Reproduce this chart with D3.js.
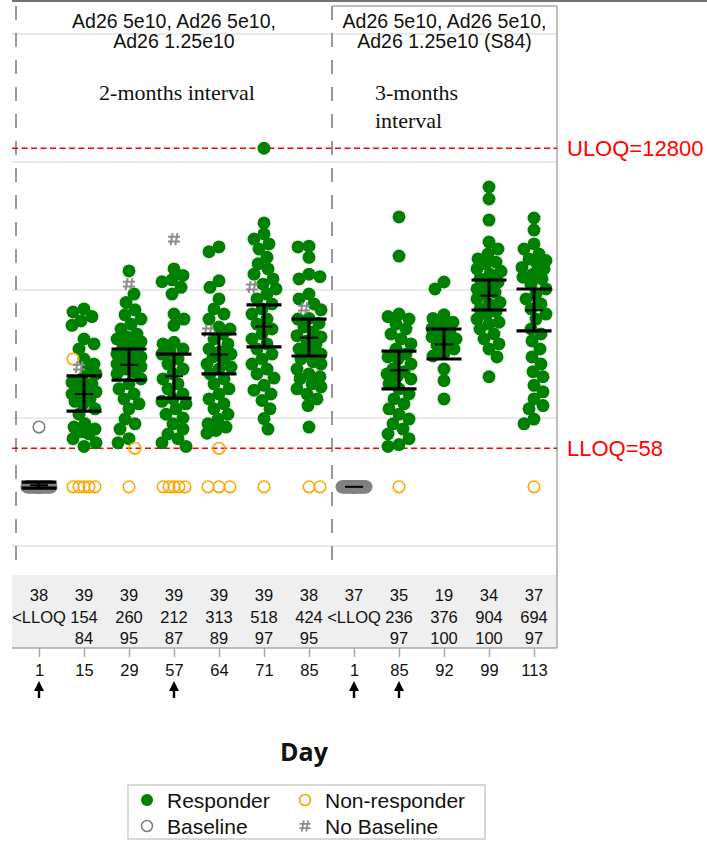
<!DOCTYPE html>
<html>
<head>
<meta charset="utf-8">
<script src="https://cdn.jsdelivr.net/npm/d3@7"></script>
<style>
  html, body { margin: 0; padding: 0; background: #fff; }
  svg { display: block; }
</style>
</head>
<body>
<div id="chart"></div>
<script>
// ---- Data -------------------------------------------------------------
const dayLabels   = ["1", "15", "29", "57", "64", "71", "85", "1", "85", "92", "99", "113"];
const nTotal      = [38, 39, 39, 39, 39, 39, 38, 37, 35, 19, 34, 37];
const gmtText     = ["<LLOQ", "154", "260", "212", "313", "518", "424", "<LLOQ", "236", "376", "904", "694"];
const respRate    = ["", "84", "95", "87", "89", "97", "95", "", "97", "100", "100", "97"];
const gmtValue    = [29.8, 154, 260, 212, 313, 518, 424, 29, 236, 376, 904, 694];
const ciLower     = [28.3, 113, 198, 143, 221, 359, 305, null, 169, 289, 698, 479];
const ciUpper     = [31.5, 213, 346, 316, 453, 764, 593, null, 333, 496, 1197, 1018];
const dosingDays  = [0, 3, 7, 8]; // columns marked with a dose arrow

const panelTitles = [
  ["Ad26 5e10, Ad26 5e10,", "Ad26 1.25e10"],
  ["Ad26 5e10, Ad26 5e10,", "Ad26 1.25e10 (S84)"]
];

const LLOQ = 58;
const ULOQ = 12800;

// responders (titer values)
const resp15  = [711, 673, 620, 573, 530, 414, 379, 346, 289, 264, 241, 221, 202, 190, 185, 175, 169, 160, 154, 148, 141, 135, 129, 118, 107, 90, 85, 82, 78, 75, 69, 64, 60];
const resp29  = [1410, 930, 800, 700, 640, 593, 540, 496, 453, 430, 414, 395, 379, 360, 346, 330, 316, 300, 289, 276, 264, 252, 241, 230, 221, 202, 185, 169, 154, 141, 129, 118, 98, 90, 82, 69, 64];
const resp57  = [1460, 1300, 1200, 1160, 1050, 930, 649, 593, 530, 390, 379, 346, 330, 316, 289, 264, 241, 221, 202, 185, 169, 154, 141, 135, 129, 118, 107, 100, 90, 82, 75, 69, 64, 60];
const resp64  = [2170, 1990, 1180, 1050, 851, 711, 649, 593, 514, 496, 453, 414, 379, 346, 330, 316, 300, 289, 264, 250, 241, 221, 202, 185, 169, 154, 141, 129, 118, 107, 98, 90, 85, 80, 76];
const resp71  = [12800, 3340, 2740, 2500, 2290, 2090, 1800, 1600, 1460, 1330, 1220, 1110, 1020, 930, 851, 778, 711, 649, 593, 542, 496, 453, 414, 379, 346, 316, 289, 264, 241, 221, 205, 180, 165, 154, 137, 118, 99, 82];
const resp85a = [2200, 2170, 1800, 1330, 1270, 1220, 930, 851, 778, 700, 600, 593, 550, 514, 470, 440, 430, 400, 379, 346, 330, 316, 289, 275, 264, 241, 221, 210, 202, 185, 175, 169, 154, 141, 125, 85];
const resp85b = [3720, 1840, 649, 620, 593, 542, 496, 453, 414, 379, 346, 316, 300, 289, 264, 241, 230, 221, 210, 202, 185, 169, 154, 141, 129, 118, 107, 98, 90, 82, 75, 69, 62, 60];
const resp92  = [1155, 1020, 640, 600, 560, 530, 500, 470, 453, 430, 414, 395, 370, 346, 320, 305, 241, 196, 141];
const resp99  = [6380, 5140, 3520, 2370, 2090, 1910, 1750, 1650, 1600, 1460, 1400, 1330, 1220, 1150, 1110, 1020, 960, 930, 851, 800, 778, 711, 680, 649, 593, 560, 542, 496, 453, 414, 379, 346, 300, 210];
const resp113 = [3650, 2940, 2290, 2090, 1910, 1750, 1700, 1600, 1500, 1460, 1330, 1260, 1220, 1110, 1020, 930, 851, 778, 711, 649, 593, 496, 453, 400, 346, 300, 264, 230, 210, 180, 160, 141, 125, 118, 98, 90];

// non-responders (values below LLOQ shown at LLOQ/2)
const non15  = [289, 29, 29, 29, 29, 29];
const non29  = [58, 29];
const non57  = [29, 29, 29, 29, 29];
const non64  = [58, 29, 29, 29];
const non71  = [29];
const non85a = [29, 29];
const non85b = [29];
const non113 = [29];

// baseline (day 1) samples
const base1a = [85, 29, 29, 29, 29, 29, 29, 29, 29, 29, 29, 29, 29, 29, 29, 29, 29, 29, 29, 29, 29, 29, 29, 29, 29, 29, 29, 29, 29, 29, 29, 29, 29, 29, 29, 29, 29, 29];
const base1b = [29, 29, 29, 29, 29, 29, 29, 29, 29, 29, 29, 29, 29, 29, 29, 29, 29, 29, 29, 29, 29, 29, 29, 29, 29, 29, 29, 29, 29, 29, 29, 29, 29, 29, 29, 29, 29];

// subjects without a baseline sample
const noBase15 = [250];
const noBase29 = [1110];
const noBase57 = [2500];
const noBase64 = [479];
const noBase71 = [1055];
const noBase85 = [722];

const responders    = [[], resp15, resp29, resp57, resp64, resp71, resp85a, [], resp85b, resp92, resp99, resp113];
const nonResponders = [[], non15, non29, non57, non64, non71, non85a, [], non85b, [], [], non113];
const baselines     = [base1a, [], [], [], [], [], [], base1b, [], [], [], []];
const noBaselines   = [[], noBase15, noBase29, noBase57, noBase64, noBase71, noBase85, [], [], [], [], []];

// ---- Layout -----------------------------------------------------------
const W = 707, H = 842;
const plotLeft = 16, plotRight = 557, divider = 332;
const plotTop = 6, plotBottom = 572;
const tableTop = 575, tableBottom = 648;

const COLORS = {
  responder: "#008000",
  non: "#FFA500",
  baseline: "#808080",
  noBase: "#8C8C8C",
  ref: "#FF0000",
  grid: "#E3E3E3"
};

const svg = d3.select("#chart").append("svg")
  .attr("width", W).attr("height", H)
  .attr("font-family", "'Liberation Sans', Arial, sans-serif");

const keys = dayLabels.map((d, i) => "c" + i);
const x = d3.scalePoint().domain(keys).range([39, 534]);
const y = d3.scaleLog().domain([10, 100000]).range([546, 34]);

// top rule
svg.append("line").attr("x1", 12).attr("x2", W).attr("y1", 1).attr("y2", 1)
  .attr("stroke", "#444").attr("stroke-width", 1.5);

// gridlines at each decade
const gridVals = [10, 100, 1000, 10000, 100000];
svg.append("g").selectAll("line").data(gridVals).join("line")
  .attr("x1", 12).attr("x2", plotRight)
  .attr("y1", d => y(d)).attr("y2", d => y(d))
  .attr("stroke", COLORS.grid).attr("stroke-width", 1.5);

// right panel frame (top edge)
svg.append("line").attr("x1", divider).attr("x2", plotRight).attr("y1", plotTop).attr("y2", plotTop)
  .attr("stroke", "#A8A8A8").attr("stroke-width", 1.5);

// statistics table background
svg.append("rect").attr("x", 12).attr("y", tableTop)
  .attr("width", plotRight - 12).attr("height", tableBottom - tableTop)
  .attr("fill", "#EFEFEF");

svg.append("line").attr("x1", plotRight).attr("x2", plotRight).attr("y1", plotTop).attr("y2", tableBottom)
  .attr("stroke", "#A8A8A8").attr("stroke-width", 1.5);
svg.append("line").attr("x1", 12).attr("x2", plotRight).attr("y1", tableBottom).attr("y2", tableBottom)
  .attr("stroke", "#A8A8A8").attr("stroke-width", 1.5);

// dashed panel separators
[plotLeft, divider].forEach(px => {
  svg.append("line").attr("x1", px).attr("x2", px).attr("y1", plotTop).attr("y2", plotBottom)
    .attr("stroke", "#808080").attr("stroke-width", 1.6)
    .attr("stroke-dasharray", "14,13");
});

// panel titles
const panelCenters = [(plotLeft + divider) / 2, (divider + plotRight) / 2];
panelTitles.forEach((lines, p) => {
  lines.forEach((t, li) => {
    svg.append("text").attr("x", panelCenters[p]).attr("y", 28 + li * 20)
      .attr("text-anchor", "middle").attr("font-size", 19.5).attr("fill", "#111")
      .text(t);
  });
});

// interval annotations
const serif = "'Liberation Serif', 'Times New Roman', serif";
svg.append("text").attr("x", 177).attr("y", 100).attr("text-anchor", "middle")
  .attr("font-family", serif).attr("font-size", 22).attr("fill", "#111").text("2-months interval");
svg.append("text").attr("x", 375).attr("y", 100)
  .attr("font-family", serif).attr("font-size", 22).attr("fill", "#111").text("3-months");
svg.append("text").attr("x", 375).attr("y", 128)
  .attr("font-family", serif).attr("font-size", 22).attr("fill", "#111").text("interval");

// LLOQ / ULOQ reference lines
[{ v: ULOQ, label: "ULOQ=12800" }, { v: LLOQ, label: "LLOQ=58" }].forEach(r => {
  svg.append("line").attr("x1", 12).attr("x2", plotRight)
    .attr("y1", y(r.v)).attr("y2", y(r.v))
    .attr("stroke", COLORS.ref).attr("stroke-width", 1.5).attr("stroke-dasharray", "6,3.5");
  svg.append("text").attr("x", 567).attr("y", y(r.v) + 8)
    .attr("font-size", 22).attr("fill", COLORS.ref).text(r.label);
});

// ---- Points: a simple beeswarm per column -----------------------------
const MIN_D = 11, MAX_J = 12;
const offsetOrder = [0];
for (let k = 1; k <= MAX_J; k++) offsetOrder.push(k, -k);

function swarm(points) {
  const sorted = points.slice().sort((a, b) => a.py - b.py);
  const placed = [];
  sorted.forEach((p, idx) => {
    const flip = idx % 2 ? -1 : 1;
    let best = 0, bestD = -1;
    for (const o0 of offsetOrder) {
      const o = o0 * flip;
      let md = Infinity;
      for (const q of placed) {
        const dy = q.py - p.py;
        if (Math.abs(dy) >= MIN_D) continue;
        md = Math.min(md, Math.hypot(q.dx - o, dy));
      }
      if (md >= MIN_D) { best = o; bestD = md; break; }
      if (md > bestD) { bestD = md; best = o; }
    }
    p.dx = best;
    placed.push(p);
  });
  return sorted;
}

const allPoints = [];
keys.forEach((k, i) => {
  const pts = [];
  responders[i].forEach(v => pts.push({ v, type: "resp" }));
  nonResponders[i].forEach(v => pts.push({ v, type: "non" }));
  baselines[i].forEach(v => pts.push({ v, type: "base" }));
  noBaselines[i].forEach(v => pts.push({ v, type: "nobase" }));
  pts.forEach(p => { p.py = y(p.v); p.col = k; });
  swarm(pts).forEach(p => allPoints.push(p));
});

// hash glyph used for subjects without baseline
function hashPath(cx, cy, s) {
  const h = s / 2, o = s / 5;
  return `M${cx - o + 1},${cy - h} L${cx - o - 1},${cy + h} ` +
         `M${cx + o + 1},${cy - h} L${cx + o - 1},${cy + h} ` +
         `M${cx - h},${cy - o} L${cx + h},${cy - o} ` +
         `M${cx - h},${cy + o} L${cx + h},${cy + o}`;
}

const gPts = svg.append("g");
gPts.selectAll("circle.resp").data(allPoints.filter(p => p.type === "resp")).join("circle")
  .attr("class", "resp")
  .attr("cx", p => x(p.col) + p.dx).attr("cy", p => p.py).attr("r", 6.5)
  .attr("fill", COLORS.responder);
gPts.selectAll("circle.base").data(allPoints.filter(p => p.type === "base")).join("circle")
  .attr("class", "base")
  .attr("cx", p => x(p.col) + p.dx).attr("cy", p => p.py).attr("r", 5.8)
  .attr("fill", "none").attr("stroke", COLORS.baseline).attr("stroke-width", 1.6);
gPts.selectAll("circle.non").data(allPoints.filter(p => p.type === "non")).join("circle")
  .attr("class", "non")
  .attr("cx", p => x(p.col) + p.dx).attr("cy", p => p.py).attr("r", 5.8)
  .attr("fill", "none").attr("stroke", COLORS.non).attr("stroke-width", 1.6);
gPts.selectAll("path.nobase").data(allPoints.filter(p => p.type === "nobase")).join("path")
  .attr("class", "nobase")
  .attr("d", p => hashPath(x(p.col) + p.dx, p.py, 12))
  .attr("fill", "none").attr("stroke", COLORS.noBase).attr("stroke-width", 2);

// ---- GMT with 95% CI --------------------------------------------------
const gBars = svg.append("g").attr("stroke", "#000");
keys.forEach((k, i) => {
  const cx = x(k);
  if (ciLower[i] != null) {
    gBars.append("line").attr("x1", cx).attr("x2", cx)
      .attr("y1", y(ciUpper[i])).attr("y2", y(ciLower[i])).attr("stroke-width", 3);
    [ciUpper[i], ciLower[i]].forEach(v => {
      gBars.append("line").attr("x1", cx - 17.5).attr("x2", cx + 17.5)
        .attr("y1", y(v)).attr("y2", y(v)).attr("stroke-width", 3.2);
    });
  }
  gBars.append("line").attr("x1", cx - 9).attr("x2", cx + 9)
    .attr("y1", y(gmtValue[i])).attr("y2", y(gmtValue[i])).attr("stroke-width", 2);
});

// ---- Statistics table -------------------------------------------------
const rows = [nTotal, gmtText, respRate];
rows.forEach((row, r) => {
  svg.append("g").selectAll("text").data(row).join("text")
    .attr("x", (d, i) => x(keys[i])).attr("y", 601 + r * 21.5)
    .attr("text-anchor", "middle").attr("font-size", 16.5).attr("fill", "#111")
    .text(d => d);
});

// ---- x axis -----------------------------------------------------------
const xAxis = d3.axisBottom(x).tickSize(9).tickPadding(7)
  .tickFormat((d, i) => dayLabels[i]);
const gx = svg.append("g").attr("transform", `translate(0,${tableBottom})`).call(xAxis);
gx.select(".domain").remove();
gx.selectAll(".tick line").attr("stroke", "#A8A8A8").attr("stroke-width", 1.5);
gx.selectAll(".tick text").attr("font-size", 16.5).attr("fill", "#111")
  .attr("font-family", "'Liberation Sans', Arial, sans-serif");

// dose arrows
dosingDays.forEach(i => {
  const cx = x(keys[i]);
  svg.append("path")
    .attr("d", `M${cx},681 L${cx + 5},691 L${cx + 1.2},691 L${cx + 1.2},698 L${cx - 1.2},698 L${cx - 1.2},691 L${cx - 5},691 Z`)
    .attr("fill", "#000");
});

// axis title
svg.append("text").attr("x", 304).attr("y", 761).attr("text-anchor", "middle")
  .attr("font-family", "'Open Sans', sans-serif").attr("font-weight", "bold")
  .attr("font-size", 25).attr("fill", "#111").text("Day");

// ---- Legend -----------------------------------------------------------
const lg = svg.append("g");
lg.append("rect").attr("x", 128).attr("y", 785).attr("width", 357).attr("height", 54)
  .attr("fill", "#fff").attr("stroke", "#CCCCCC").attr("stroke-width", 1.5);
const legendItems = [
  { label: "Responder", kind: "resp", lx: 147, ly: 800 },
  { label: "Non-responder", kind: "non", lx: 305, ly: 800 },
  { label: "Baseline", kind: "base", lx: 147, ly: 826 },
  { label: "No Baseline", kind: "nobase", lx: 305, ly: 826 }
];
legendItems.forEach(it => {
  if (it.kind === "resp") {
    lg.append("circle").attr("cx", it.lx).attr("cy", it.ly).attr("r", 6).attr("fill", COLORS.responder);
  } else if (it.kind === "non" || it.kind === "base") {
    lg.append("circle").attr("cx", it.lx).attr("cy", it.ly).attr("r", 5.5)
      .attr("fill", "none").attr("stroke", it.kind === "non" ? COLORS.non : COLORS.baseline)
      .attr("stroke-width", 1.6);
  } else {
    lg.append("path").attr("d", hashPath(it.lx, it.ly, 11))
      .attr("fill", "none").attr("stroke", COLORS.noBase).attr("stroke-width", 1.8);
  }
  lg.append("text").attr("x", it.lx + 20).attr("y", it.ly + 7.5)
    .attr("font-size", 21).attr("fill", "#111").text(it.label);
});
</script>
</body>
</html>
